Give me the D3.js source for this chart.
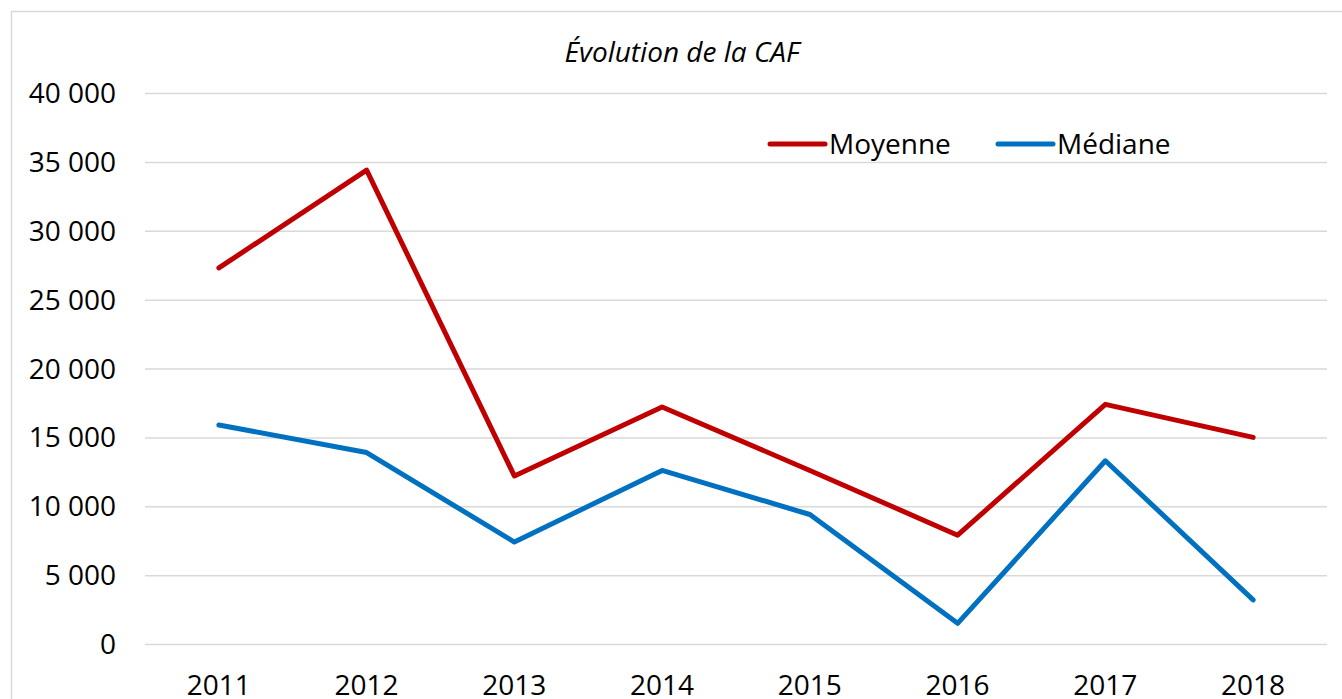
<!DOCTYPE html>
<html>
<head>
<meta charset="utf-8">
<script src="https://cdn.jsdelivr.net/npm/d3@7"></script>
<style>
  html, body { margin: 0; padding: 0; background: #fff; overflow: hidden; }
  text { font-family: "Open Sans", sans-serif; fill: #000; }
</style>
</head>
<body>
<svg id="chart" width="1342" height="699"></svg>
<script>
// ---- Data ----
const years = ['2011', '2012', '2013', '2014', '2015', '2016', '2017', '2018'];
const moyenne = [27300, 34400, 12200, 17200, 12600, 7900, 17400, 15000];
const mediane = [15900, 13900, 7400, 12600, 9400, 1500, 13300, 3200];
const yTicks = [0, 5000, 10000, 15000, 20000, 25000, 30000, 35000, 40000];
const seriesNames = ['Moyenne', 'Médiane'];
const seriesColors = ['#c00000', '#0070c0'];

const WIDTH = 1342, HEIGHT = 699;
const svg = d3.select('#chart');

// chart frame (runs off the right/bottom edges)
svg.append('rect')
  .attr('x', 11.5).attr('y', 11.5)
  .attr('width', 1400).attr('height', 800)
  .attr('fill', '#fff')
  .attr('stroke', '#d9d9d9')
  .attr('stroke-width', 1.5);

const plot = { left: 145, right: 1327, top: 93, bottom: 644 };

const x = d3.scaleBand().domain(years).range([plot.left, plot.right]);
const y = d3.scaleLinear().domain([0, 40000]).range([plot.bottom, plot.top]);

const fmt = v => d3.format(',')(v).replace(/,/g, ' ');

// ---- Grid ----
svg.append('g')
  .attr('transform', `translate(${plot.left},0)`)
  .call(d3.axisLeft(y).tickValues(yTicks).tickSize(-(plot.right - plot.left)).tickFormat(''))
  .call(g => g.select('.domain').remove())
  .selectAll('line')
  .attr('stroke', '#d9d9d9')
  .attr('stroke-width', 1.5);

// ---- Y labels ----
svg.append('g')
  .selectAll('text')
  .data(yTicks)
  .join('text')
  .attr('x', 116)
  .attr('y', d => y(d))
  .attr('dy', '0.36em')
  .attr('text-anchor', 'end')
  .attr('font-size', '28px')
  .text(fmt);

// ---- X labels ----
svg.append('g')
  .selectAll('text')
  .data(years)
  .join('text')
  .attr('x', d => x(d) + x.bandwidth() / 2)
  .attr('y', 695)
  .attr('text-anchor', 'middle')
  .attr('font-size', '28px')
  .text(d => d);

// ---- Lines ----
const line = d3.line()
  .x((d, i) => x(years[i]) + x.bandwidth() / 2)
  .y(d => y(d));

[moyenne, mediane].forEach((s, i) => {
  svg.append('path')
    .datum(s)
    .attr('fill', 'none')
    .attr('stroke', seriesColors[i])
    .attr('stroke-width', 5)
    .attr('stroke-linejoin', 'round')
    .attr('stroke-linecap', 'round')
    .attr('d', line);
});

// ---- Title ----
svg.append('text')
  .attr('x', 682)
  .attr('y', 62)
  .attr('text-anchor', 'middle')
  .attr('font-style', 'italic')
  .attr('font-size', '28px')
  .text('Évolution de la CAF');

// ---- Legend ----
const legendX = [770, 998];
const leg = svg.append('g')
  .selectAll('g')
  .data(seriesNames)
  .join('g')
  .attr('transform', (d, i) => `translate(${legendX[i]},144)`);

leg.append('line')
  .attr('x1', 0).attr('x2', 55)
  .attr('stroke', (d, i) => seriesColors[i])
  .attr('stroke-width', 5)
  .attr('stroke-linecap', 'round');

leg.append('text')
  .attr('x', 59)
  .attr('dy', '0.36em')
  .attr('font-size', '28px')
  .text(d => d);
</script>
</body>
</html>
